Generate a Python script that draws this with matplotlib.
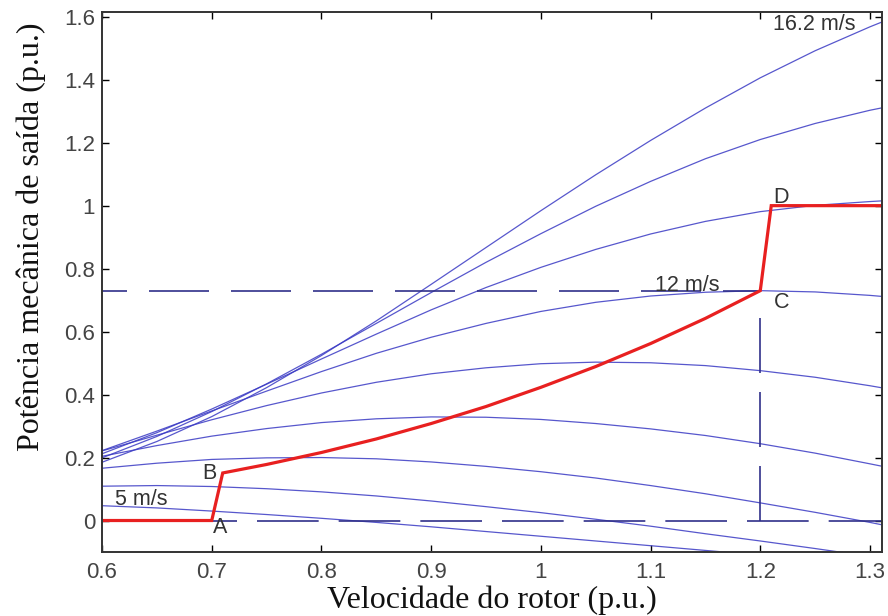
import numpy as np
import matplotlib
matplotlib.use('Agg')
import matplotlib.pyplot as plt
from matplotlib.ticker import FuncFormatter

# velocidade do rotor (p.u.)
rotor = [0.6, 0.65, 0.7, 0.75, 0.8, 0.85, 0.9, 0.95, 1.0, 1.05, 1.1, 1.15, 1.2, 1.25, 1.3, 1.31]

# potencia mecanica (p.u.) para cada velocidade do vento
p_16_2 = [0.185, 0.251, 0.330, 0.422, 0.524, 0.634, 0.750, 0.867, 0.984, 1.098, 1.207, 1.310, 1.406, 1.492, 1.568, 1.582]
p_14_8 = [0.199, 0.267, 0.346, 0.434, 0.528, 0.626, 0.724, 0.820, 0.911, 0.998, 1.077, 1.149, 1.210, 1.261, 1.303, 1.310]
p_13_4 = [0.212, 0.279, 0.354, 0.433, 0.513, 0.592, 0.669, 0.740, 0.804, 0.861, 0.910, 0.950, 0.981, 1.001, 1.013, 1.015]
p_12 = [0.222, 0.284, 0.348, 0.411, 0.473, 0.531, 0.582, 0.626, 0.664, 0.693, 0.713, 0.725, 0.730, 0.726, 0.715, 0.712]
p_10_6 = [0.221, 0.271, 0.320, 0.365, 0.405, 0.439, 0.466, 0.485, 0.498, 0.503, 0.501, 0.492, 0.476, 0.455, 0.428, 0.422]
p_9_2 = [0.204, 0.238, 0.268, 0.292, 0.311, 0.323, 0.329, 0.328, 0.321, 0.308, 0.291, 0.270, 0.244, 0.214, 0.180, 0.173]
p_7_8 = [0.166, 0.182, 0.194, 0.199, 0.200, 0.196, 0.186, 0.172, 0.155, 0.135, 0.111, 0.085, 0.056, 0.026, -0.006, -0.013]
p_6_4 = [0.109, 0.111, 0.108, 0.101, 0.091, 0.078, 0.062, 0.044, 0.025, 0.004, -0.018, -0.042, -0.065, -0.089, -0.114, -0.118]
p_5 = [0.047, 0.040, 0.030, 0.019, 0.007, -0.006, -0.020, -0.035, -0.050, -0.065, -0.080, -0.095, -0.110, -0.125, -0.140, -0.143]
curvas = [p_16_2, p_14_8, p_13_4, p_12, p_10_6, p_9_2, p_7_8, p_6_4, p_5]

# trajetoria de controle A-B-C-D
red_x = [0.6, 0.7, 0.71, 0.75, 0.8, 0.85, 0.9, 0.95, 1.0, 1.05, 1.1, 1.15, 1.2, 1.21, 1.311]
red_y = [0.0, 0.0, 0.151, 0.178, 0.216, 0.259, 0.308, 0.362, 0.423, 0.489, 0.562, 0.642, 0.730, 1.0, 1.0]

p_base = 0.73   # potencia a 12 m/s
w_base = 1.2    # velocidade base

fig = plt.figure(figsize=(8.88, 6.16), dpi=100)
ax = fig.add_axes([0.1149, 0.1039, 0.8784, 0.8766])

for p in curvas:
    ax.plot(rotor, p, color='#3a3ac4', lw=0.9, alpha=0.85)

dash_col = '#30308a'
ax.plot([0.6, w_base], [p_base, p_base], color=dash_col, lw=1.2, ls=(21, (36, 13.2)))
ax.plot([0.6, 1.311], [0, 0], color=dash_col, lw=1.2, ls=(5, (37, 12)))
ax.plot([w_base, w_base], [0, 0.645], color=dash_col, lw=1.2, ls=(0, (33, 11.4)))

ax.plot(red_x, red_y, color='#e82020', lw=2.3, solid_joinstyle='miter')

txt = dict(family=['Liberation Sans', 'DejaVu Sans'], fontsize=15.5, color='#333333')
ax.text(1.212, 1.575, '16.2 m/s', va='center', ha='left', **txt)
ax.text(1.104, 0.745, '12 m/s', va='center', ha='left', **txt)
ax.text(0.612, 0.067, '5 m/s', va='center', ha='left', **txt)
ax.text(0.691, 0.149, 'B', va='center', ha='left', **txt)
ax.text(0.701, -0.022, 'A', va='center', ha='left', **txt)
ax.text(1.212, 0.693, 'C', va='center', ha='left', **txt)
ax.text(1.212, 1.027, 'D', va='center', ha='left', **txt)

ax.set_xlim(0.6, 1.311)
ax.set_ylim(-0.1, 1.615)
ax.set_xticks([0.6, 0.7, 0.8, 0.9, 1.0, 1.1, 1.2, 1.3])
ax.set_yticks([0, 0.2, 0.4, 0.6, 0.8, 1.0, 1.2, 1.4, 1.6])
fmt = FuncFormatter(lambda v, pos: '%g' % round(v, 2))
ax.xaxis.set_major_formatter(fmt)
ax.yaxis.set_major_formatter(fmt)
ax.tick_params(direction='in', top=True, right=True, length=5, width=1,
               labelsize=16, labelcolor='#444444')
ax.tick_params(axis='x', pad=7)
ax.tick_params(axis='y', pad=5)
for lab in ax.get_xticklabels() + ax.get_yticklabels():
    lab.set_family(['Liberation Sans', 'DejaVu Sans'])
for s in ax.spines.values():
    s.set_linewidth(1.4)
    s.set_color('#333333')

lab_font = dict(family=['Liberation Serif', 'DejaVu Serif'], fontsize=23, color='#111111')
ax.set_xlabel('Velocidade do rotor (p.u.)', labelpad=2, **lab_font)
ax.set_ylabel('Potência mecânica de saída (p.u.)', **lab_font)
ax.yaxis.set_label_coords(-0.072, 0.583)

fig.savefig('out.png', dpi=100)
